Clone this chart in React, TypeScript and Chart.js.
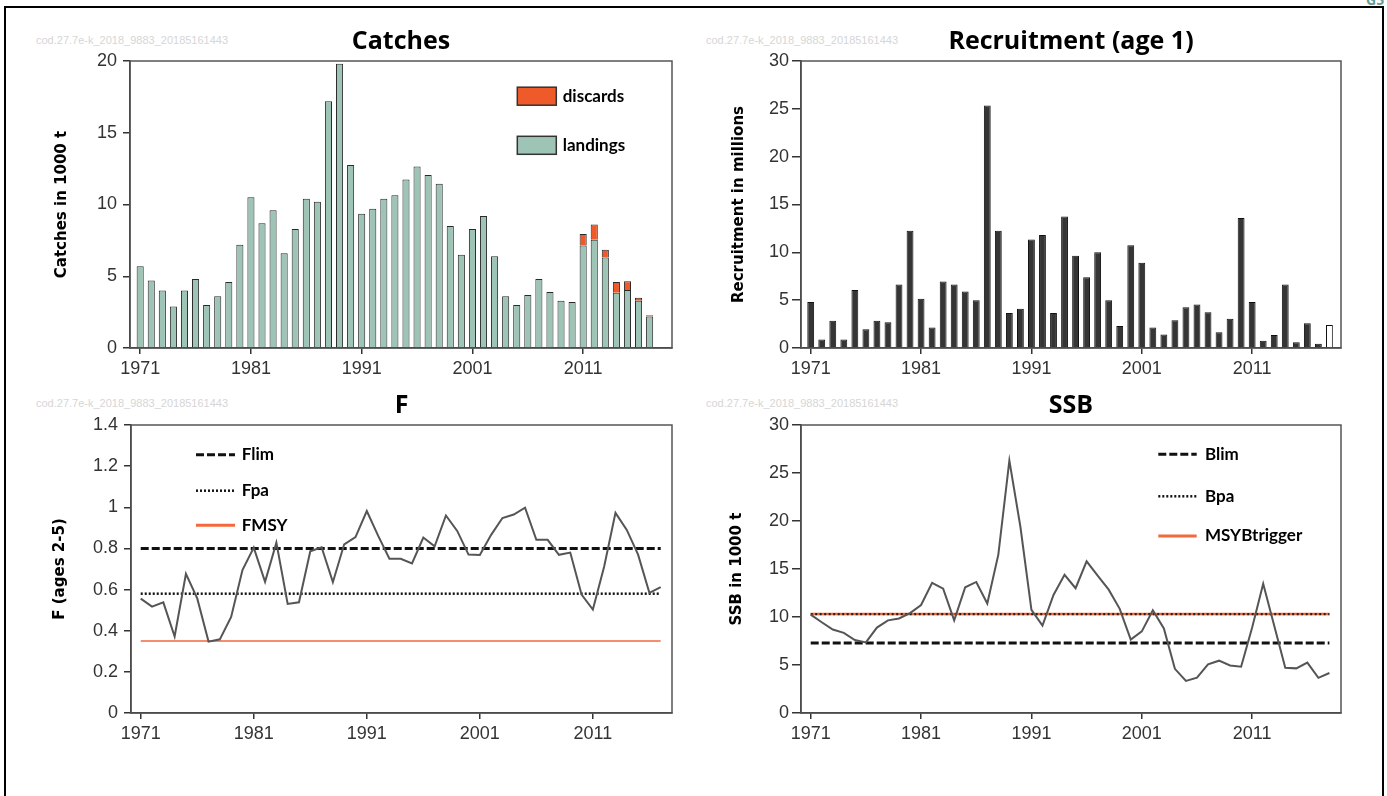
import React, { useEffect, useRef } from 'react';
import { Chart, registerables } from 'chart.js';

Chart.register(...registerables);

// ---------------- data ----------------
const YEARS_CATCH = [1971, 1972, 1973, 1974, 1975, 1976, 1977, 1978, 1979, 1980, 1981, 1982, 1983, 1984, 1985, 1986, 1987, 1988, 1989, 1990, 1991, 1992, 1993, 1994, 1995, 1996, 1997, 1998, 1999, 2000, 2001, 2002, 2003, 2004, 2005, 2006, 2007, 2008, 2009, 2010, 2011, 2012, 2013, 2014, 2015, 2016, 2017];
const LANDINGS = [5.7, 4.7, 4.0, 2.9, 4.0, 4.8, 3.0, 3.6, 4.6, 7.2, 10.5, 8.7, 9.6, 6.6, 8.3, 10.4, 10.2, 17.2, 19.8, 12.75, 9.35, 9.7, 10.4, 10.65, 11.75, 12.65, 12.05, 11.45, 8.5, 6.5, 8.3, 9.2, 6.4, 3.6, 3.0, 3.7, 4.8, 3.9, 3.3, 3.2, 7.15, 7.55, 6.3, 3.85, 4.05, 3.3, 2.2];
const DISCARD_YEARS = [2011, 2012, 2013, 2014, 2015, 2016, 2017];
const DISCARDS = [0.8, 1.05, 0.55, 0.75, 0.6, 0.2, 0.08];

const YEARS_REC = [1971, 1972, 1973, 1974, 1975, 1976, 1977, 1978, 1979, 1980, 1981, 1982, 1983, 1984, 1985, 1986, 1987, 1988, 1989, 1990, 1991, 1992, 1993, 1994, 1995, 1996, 1997, 1998, 1999, 2000, 2001, 2002, 2003, 2004, 2005, 2006, 2007, 2008, 2009, 2010, 2011, 2012, 2013, 2014, 2015, 2016, 2017, 2018];
const RECRUITMENT = [4.8, 0.9, 2.85, 0.9, 6.05, 1.95, 2.85, 2.7, 6.65, 12.25, 5.15, 2.15, 6.95, 6.65, 5.9, 5.0, 25.35, 12.25, 3.65, 4.1, 11.35, 11.8, 3.65, 13.75, 9.65, 7.4, 10.0, 5.0, 2.3, 10.75, 8.9, 2.15, 1.4, 2.9, 4.25, 4.55, 3.75, 1.65, 3.05, 13.6, 4.8, 0.75, 1.35, 6.65, 0.6, 2.6, 0.45, 2.4];
const REC_ESTIMATE_YEAR = 2018;

const YEARS_F = YEARS_CATCH;
const F_VALUES = [0.556, 0.517, 0.538, 0.372, 0.677, 0.557, 0.347, 0.358, 0.467, 0.695, 0.804, 0.638, 0.828, 0.53, 0.538, 0.786, 0.806, 0.636, 0.82, 0.855, 0.982, 0.862, 0.75, 0.75, 0.727, 0.853, 0.81, 0.96, 0.885, 0.77, 0.768, 0.866, 0.948, 0.965, 0.998, 0.842, 0.842, 0.769, 0.78, 0.576, 0.503, 0.712, 0.973, 0.89, 0.77, 0.584, 0.612];

const YEARS_SSB = YEARS_REC;
const SSB = [10.25, 9.45, 8.7, 8.35, 7.6, 7.35, 8.9, 9.65, 9.85, 10.4, 11.25, 13.55, 12.95, 9.65, 13.1, 13.65, 11.4, 16.5, 26.3, 19.4, 10.75, 9.1, 12.3, 14.4, 13.0, 15.8, 14.3, 12.85, 10.85, 7.65, 8.5, 10.7, 8.8, 4.6, 3.35, 3.68, 5.07, 5.45, 4.95, 4.82, 8.9, 13.47, 9.1, 4.72, 4.65, 5.25, 3.66, 4.17];

const FLIM = 0.8;
const FPA = 0.58;
const FMSY = 0.35;
const BLIM = 7.3;
const BPA = 10.3;
const MSY_BTRIGGER = 10.3;
const REF_F_YEARS = [1971, 2017];
const REF_B_YEARS = [1971, 2018];

const X_TICKS = [1971, 1981, 1991, 2001, 2011];
const CATCH_Y_TICKS = [0, 5, 10, 15, 20];
const REC_Y_TICKS = [0, 5, 10, 15, 20, 25, 30];
const F_Y_TICKS = [0, 0.2, 0.4, 0.6, 0.8, 1.0, 1.2, 1.4];
const SSB_Y_TICKS = [0, 5, 10, 15, 20, 25, 30];

const WATERMARK = 'cod.27.7e-k_2018_9883_20185161443';

// ---------------- styles ----------------
const LANDINGS_COLOR = '#9DC4B5';
const DISCARDS_COLOR = '#EE5A2A';
const REC_COLOR = '#353535';
const SERIES_LINE = '#555555';
const ORANGE = '#F26A3C';

const TICK_FONT = { family: "'Liberation Sans', Arial, sans-serif", size: 18 };
const AXIS_TITLE_FONT = { family: "'DejaVu Sans', sans-serif", size: 15, weight: 'bold' as const, lineHeight: 1.2 };
const TITLE_FONT = { family: "'Open Sans', sans-serif", size: 25, weight: 'bold' as const, lineHeight: 1.2 };
const LEGEND_FONT = "bold 17px Lato, 'Open Sans', sans-serif";

const pts = (xs: number[], ys: number[]) => xs.map((x, i) => ({ x, y: ys[i] }));
const refPts = (xs: number[], v: number) => xs.map((x) => ({ x, y: v }));

const framePlugin = {
  id: 'frame',
  afterDraw(chart: any) {
    const { ctx, chartArea } = chart;
    ctx.save();
    ctx.strokeStyle = '#555';
    ctx.lineWidth = 1.5;
    ctx.strokeRect(chartArea.left, chartArea.top, chartArea.right - chartArea.left, chartArea.bottom - chartArea.top);
    ctx.restore();
  },
};

const insideLegendPlugin = {
  id: 'insideLegend',
  afterDraw(chart: any, _args: any, opts: any) {
    if (!opts || !opts.items) return;
    const { ctx, chartArea } = chart;
    const x0 = chartArea.left + opts.dx;
    ctx.save();
    opts.items.forEach((it: any, i: number) => {
      const cy = chartArea.top + opts.dy[i];
      if (it.kind === 'box') {
        ctx.fillStyle = it.color;
        ctx.fillRect(x0, cy - 9, 39, 18);
        ctx.strokeStyle = '#333';
        ctx.lineWidth = 1.5;
        ctx.strokeRect(x0, cy - 9, 39, 18);
      } else {
        ctx.strokeStyle = it.color;
        ctx.lineWidth = it.width;
        ctx.setLineDash(it.dash || []);
        ctx.beginPath();
        ctx.moveTo(x0, cy);
        ctx.lineTo(x0 + opts.sampleW, cy);
        ctx.stroke();
        ctx.setLineDash([]);
      }
      ctx.fillStyle = '#000';
      ctx.font = LEGEND_FONT;
      ctx.textAlign = 'left';
      ctx.textBaseline = 'middle';
      ctx.fillText(it.text, x0 + opts.textDx, cy);
    });
    ctx.restore();
  },
};

function xScale(min: number, max: number, stacked = false) {
  return {
    type: 'linear' as const,
    min,
    max,
    stacked,
    offset: false,
    afterBuildTicks: (s: any) => {
      s.ticks = X_TICKS.map((v) => ({ value: v }));
    },
    afterFit: (s: any) => {
      s.height = 32;
    },
    grid: { drawOnChartArea: false, drawTicks: true, tickLength: 6, color: '#333', lineWidth: 1.5, offset: false },
    border: { display: true, color: '#333', width: 1.5 },
    ticks: { font: TICK_FONT, color: '#333', padding: 4, maxRotation: 0, autoSkip: false, callback: (v: any) => String(v) },
  };
}

function yScale(max: number, tickVals: number[], width: number, title: string, titlePad: number, tickLen: number, tickPad: number, stacked = false) {
  return {
    type: 'linear' as const,
    min: 0,
    max,
    stacked,
    afterBuildTicks: (s: any) => {
      s.ticks = tickVals.map((v) => ({ value: v }));
    },
    afterFit: (s: any) => {
      s.width = width;
    },
    grid: { drawOnChartArea: false, drawTicks: true, tickLength: tickLen, color: '#333', lineWidth: 1.5 },
    border: { display: true, color: '#333', width: 1.5 },
    ticks: {
      font: TICK_FONT,
      color: '#333',
      padding: tickPad,
      autoSkip: false,
      callback: (v: any) => {
        const n = Number(v);
        return Number.isInteger(n) ? String(n) : n.toFixed(1);
      },
    },
    title: { display: true, text: title, font: AXIS_TITLE_FONT, color: '#000', padding: { top: titlePad, bottom: 0 } },
  };
}

function baseOptions(title: string, titlePadTop: number, titlePadBottom: number) {
  return {
    responsive: false,
    maintainAspectRatio: false,
    animation: false as const,
    devicePixelRatio: 1,
    layout: { padding: { left: 0, right: 10, top: 0, bottom: 0 } },
    plugins: {
      legend: { display: false },
      tooltip: { enabled: false },
      title: {
        display: true,
        text: title,
        font: TITLE_FONT,
        color: '#000',
        fullSize: false,
        padding: { top: titlePadTop, bottom: titlePadBottom },
      },
    },
  };
}

function useChart(factory: (c: HTMLCanvasElement) => Chart) {
  const ref = useRef<HTMLCanvasElement | null>(null);
  useEffect(() => {
    if (!ref.current) return;
    const ch = factory(ref.current);
    return () => ch.destroy();
  }, []);
  return ref;
}

const PANELS = {
  catches: { left: 40, top: 20, width: 642, height: 360 },
  rec: { left: 705, top: 20, width: 646, height: 360 },
  f: { left: 40, top: 385, width: 642, height: 360 },
  ssb: { left: 705, top: 385, width: 646, height: 360 },
};

function Canvas({ refObj, box }: { refObj: any; box: { left: number; top: number; width: number; height: number } }) {
  return (
    <canvas
      ref={refObj}
      width={box.width}
      height={box.height}
      style={{ position: 'absolute', left: box.left, top: box.top, width: box.width, height: box.height }}
    />
  );
}

export default function App() {
  const catchesRef = useChart((c) =>
    new Chart(c, {
      type: 'bar',
      data: {
        datasets: [
          {
            label: 'landings',
            data: pts(YEARS_CATCH, LANDINGS),
            backgroundColor: LANDINGS_COLOR,
            borderColor: '#2a2a2a',
            borderWidth: 1,
            barPercentage: 0.64,
            categoryPercentage: 1,
          },
          {
            label: 'discards',
            data: pts(DISCARD_YEARS, DISCARDS),
            backgroundColor: DISCARDS_COLOR,
            borderColor: '#2a2a2a',
            borderWidth: 1,
            barPercentage: 0.64,
            categoryPercentage: 1,
          },
        ],
      },
      options: {
        ...baseOptions('Catches', 7, 4),
        plugins: {
          ...baseOptions('Catches', 7, 4).plugins,
          insideLegend: {
            dx: 387.3,
            dy: [35.2, 84.3],
            textDx: 45.4,
            items: [
              { kind: 'box', color: DISCARDS_COLOR, text: 'discards' },
              { kind: 'box', color: LANDINGS_COLOR, text: 'landings' },
            ],
          },
        },
        scales: {
          x: xScale(1970.08, 2019.02, true),
          y: yScale(20, CATCH_Y_TICKS, 90, 'Catches in 1000 t', 13.5, 7, 6, true),
        },
      } as any,
      plugins: [framePlugin, insideLegendPlugin],
    })
  );

  const recRef = useChart((c) =>
    new Chart(c, {
      type: 'bar',
      data: {
        datasets: [
          {
            label: 'Recruitment',
            data: pts(YEARS_REC, RECRUITMENT),
            backgroundColor: (ctx: any) => (YEARS_REC[ctx.dataIndex] === REC_ESTIMATE_YEAR ? '#ffffff' : REC_COLOR),
            borderColor: '#111',
            borderWidth: 1,
            barPercentage: 0.62,
            categoryPercentage: 1,
          },
        ],
      },
      options: {
        ...baseOptions('Recruitment (age 1)', 7, 4),
        scales: {
          x: xScale(1970.12, 2019.05),
          y: yScale(30, REC_Y_TICKS, 96, 'Recruitment in millions', 25, 9, 3),
        },
      } as any,
      plugins: [framePlugin],
    })
  );

  // Chart.js draws dataset 0 last (on top)
  const fRef = useChart((c) =>
    new Chart(c, {
      type: 'line',
      data: {
        datasets: [
          { label: 'F', data: pts(YEARS_F, F_VALUES), borderColor: SERIES_LINE, borderWidth: 2, pointRadius: 0, tension: 0 },
          { label: 'Flim', data: refPts(REF_F_YEARS, FLIM), borderColor: '#111', borderWidth: 3, borderDash: [8, 3], pointRadius: 0 },
          { label: 'Fpa', data: refPts(REF_F_YEARS, FPA), borderColor: '#111', borderWidth: 2.5, borderDash: [2, 2], pointRadius: 0 },
          { label: 'FMSY', data: refPts(REF_F_YEARS, FMSY), borderColor: '#F58E6E', borderWidth: 2, pointRadius: 0 },
        ],
      },
      options: {
        ...baseOptions('F', 5.5, 4.5),
        plugins: {
          ...baseOptions('F', 5.5, 4.5).plugins,
          insideLegend: {
            dx: 65,
            dy: [29.7, 65.7, 100.3],
            sampleW: 39,
            textDx: 45.7,
            items: [
              { kind: 'line', color: '#111', width: 3, dash: [8, 3], text: 'Flim' },
              { kind: 'line', color: '#111', width: 2.5, dash: [2, 2], text: 'Fpa' },
              { kind: 'line', color: ORANGE, width: 3, text: 'FMSY' },
            ],
          },
        },
        scales: {
          x: xScale(1970.14, 2018.0),
          y: yScale(1.4, F_Y_TICKS, 91, 'F (ages 2-5)', 11, 7, 6),
        },
      } as any,
      plugins: [framePlugin, insideLegendPlugin],
    })
  );

  const ssbRef = useChart((c) =>
    new Chart(c, {
      type: 'line',
      data: {
        datasets: [
          { label: 'SSB', data: pts(YEARS_SSB, SSB), borderColor: SERIES_LINE, borderWidth: 2, pointRadius: 0, tension: 0 },
          { label: 'Bpa', data: refPts(REF_B_YEARS, BPA), borderColor: '#222', borderWidth: 2.2, borderDash: [2, 2.5], pointRadius: 0 },
          { label: 'MSYBtrigger', data: refPts(REF_B_YEARS, MSY_BTRIGGER), borderColor: ORANGE, borderWidth: 2.5, pointRadius: 0 },
          { label: 'Blim', data: refPts(REF_B_YEARS, BLIM), borderColor: '#111', borderWidth: 3, borderDash: [8, 3], pointRadius: 0 },
        ],
      },
      options: {
        ...baseOptions('SSB', 5.5, 4.5),
        plugins: {
          ...baseOptions('SSB', 5.5, 4.5).plugins,
          insideLegend: {
            dx: 357.3,
            dy: [29.3, 71.3, 111],
            sampleW: 38.4,
            textDx: 46.7,
            items: [
              { kind: 'line', color: '#111', width: 3, dash: [8, 3], text: 'Blim' },
              { kind: 'line', color: '#111', width: 2.5, dash: [2, 2], text: 'Bpa' },
              { kind: 'line', color: ORANGE, width: 3, text: 'MSYBtrigger' },
            ],
          },
        },
        scales: {
          x: xScale(1970.12, 2019.05),
          y: yScale(30, SSB_Y_TICKS, 96, 'SSB in 1000 t', 23, 9, 3),
        },
      } as any,
      plugins: [framePlugin, insideLegendPlugin],
    })
  );

  const wm = (left: number, top: number) => (
    <div
      style={{
        position: 'absolute',
        left,
        top,
        fontFamily: "'Liberation Sans', Arial, sans-serif",
        fontSize: 11,
        color: '#d6d6d6',
        whiteSpace: 'nowrap',
        lineHeight: '12px',
      }}
    >
      {WATERMARK}
    </div>
  );

  return (
    <div style={{ position: 'absolute', left: 0, top: 0, width: 1387, height: 796, overflow: 'hidden', background: '#fff' }}>
      <div
        style={{
          position: 'absolute',
          left: 4,
          top: 6,
          width: 1380,
          height: 900,
          border: '2px solid #000',
          boxSizing: 'border-box',
        }}
      />
      <div
        style={{
          position: 'absolute',
          left: 1366,
          top: -10,
          fontFamily: "'Open Sans', sans-serif",
          fontWeight: 'bold',
          fontSize: 14,
          color: '#5f9e98',
        }}
      >
        G5
      </div>
      {wm(36, 34)}
      {wm(706, 34)}
      {wm(36, 397)}
      {wm(706, 397)}
      <Canvas refObj={catchesRef} box={PANELS.catches} />
      <Canvas refObj={recRef} box={PANELS.rec} />
      <Canvas refObj={fRef} box={PANELS.f} />
      <Canvas refObj={ssbRef} box={PANELS.ssb} />
    </div>
  );
}
